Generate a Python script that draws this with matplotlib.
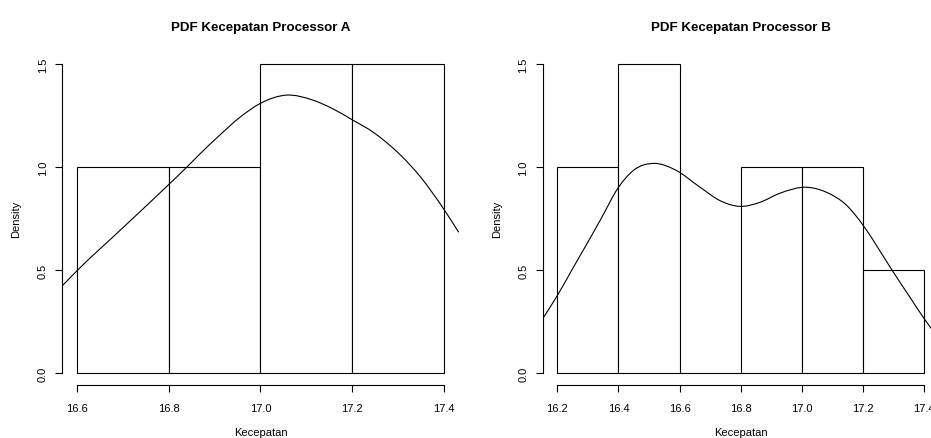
import numpy as np
import matplotlib
matplotlib.use("Agg")
import matplotlib.pyplot as plt
from matplotlib.path import Path
from matplotlib.patches import PathPatch

plt.rcParams['font.family'] = ['Liberation Sans', 'DejaVu Sans']

# histogram bins and densities
bins_a = [16.6, 16.8, 17.0, 17.2, 17.4]
dens_a = [1.0, 1.0, 1.5, 1.5]
bins_b = [16.2, 16.4, 16.6, 16.8, 17.0, 17.2, 17.4]
dens_b = [1.0, 1.5, 0.0, 1.0, 1.0, 0.5]

# density curves (x, density)
curve_a_x = [16.568, 16.600, 16.700, 16.799, 16.839, 16.868, 16.912, 16.955,
             16.999, 17.057, 17.115, 17.159, 17.200, 17.246, 17.275, 17.304,
             17.348, 17.400, 17.432]
curve_a_y = [0.424, 0.497, 0.706, 0.914, 1.000, 1.065, 1.158, 1.243,
             1.310, 1.351, 1.326, 1.283, 1.231, 1.170, 1.120, 1.062,
             0.955, 0.795, 0.684]
curve_b_x = [16.152, 16.200, 16.252, 16.300, 16.345, 16.399, 16.449,
             16.519, 16.585, 16.667, 16.732, 16.797, 16.863, 16.928,
             17.016, 17.081, 17.146, 17.201, 17.250, 17.294, 17.350, 17.400,
             17.448]
curve_b_y = [0.263, 0.376, 0.512, 0.636, 0.755, 0.900, 0.985,
             1.019, 0.988, 0.903, 0.838, 0.810, 0.830, 0.874,
             0.903, 0.878, 0.815, 0.716, 0.605, 0.501, 0.375, 0.263,
             0.165]

yticks = [0.0, 0.5, 1.0, 1.5]
ytick_labels = ['0.0', '0.5', '1.0', '1.5']

fig = plt.figure(figsize=(9.31, 4.39), dpi=100)
lw = 0.8


def smooth_path(xs, ys):
    # cubic Hermite through the read points, drawn as Bezier segments
    x = np.asarray(xs, float)
    y = np.asarray(ys, float)
    m = np.gradient(y, x)
    verts = [(x[0], y[0])]
    codes = [Path.MOVETO]
    for i in range(len(x) - 1):
        h = x[i + 1] - x[i]
        verts += [(x[i] + h / 3, y[i] + m[i] * h / 3),
                  (x[i + 1] - h / 3, y[i + 1] - m[i + 1] * h / 3),
                  (x[i + 1], y[i + 1])]
        codes += [Path.CURVE4] * 3
    return Path(verts, codes)


def panel(rect, bins, dens, cx, cy, title):
    ax = fig.add_axes(rect)
    edges = np.array(bins)
    widths = np.diff(edges)
    ax.bar(edges[:-1], dens, width=widths, align='edge', facecolor='white',
           edgecolor='black', linewidth=lw)
    ax.add_patch(PathPatch(smooth_path(cx, cy), fill=False,
                           edgecolor='black', linewidth=lw))
    span = edges[-1] - edges[0]
    ax.set_xlim(edges[0] - 0.04 * span, edges[-1] + 0.04 * span)
    ax.set_ylim(-0.06, 1.56)
    ax.set_xticks(bins)
    ax.set_xticklabels(['%.1f' % b for b in bins])
    ax.set_yticks(yticks)
    ax.set_yticklabels(ytick_labels, rotation=90, va='center')
    for s in ['top', 'right']:
        ax.spines[s].set_visible(False)
    ax.spines['left'].set_bounds(0, 1.5)
    ax.spines['bottom'].set_bounds(edges[0], edges[-1])
    ax.spines['left'].set_linewidth(lw)
    ax.spines['bottom'].set_linewidth(lw)
    ax.tick_params(direction='out', length=5, width=lw, labelsize=8)
    ax.tick_params(axis='x', pad=7.5)
    ax.tick_params(axis='y', pad=5.3)
    ax.set_xlabel('Kecepatan', fontsize=8, labelpad=10.5)
    ax.set_ylabel('Density', fontsize=8, labelpad=11.8)
    ax.set_title(title, fontsize=9.6, fontweight='bold', pad=16)
    return ax


panel([0.0669, 0.12, 0.4258, 0.759], bins_a, dens_a, curve_a_x, curve_a_y,
      'PDF Kecepatan Processor A')
panel([0.5828, 0.12, 0.4258, 0.759], bins_b, dens_b, curve_b_x, curve_b_y,
      'PDF Kecepatan Processor B')

fig.savefig('out.png', dpi=100)
